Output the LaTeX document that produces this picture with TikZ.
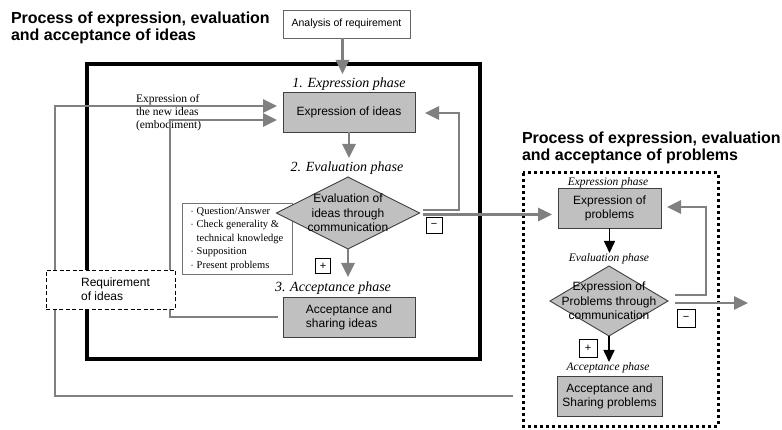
\documentclass[tikz,border=0pt]{standalone}
\usepackage{fontspec}
\setmainfont{Liberation Serif}
\setsansfont{Liberation Sans}
\usetikzlibrary{shapes.geometric,arrows.meta,calc}
\definecolor{linegray}{RGB}{128,128,128}
\definecolor{boxgray}{RGB}{192,192,192}
\begin{document}
\begin{tikzpicture}[x=1pt,y=-1pt,
 every node/.style={inner sep=0pt, outer sep=0pt},
 garrow/.style={draw=linegray, line width=2.6pt, -{Triangle[length=14pt,width=13pt]}},
 barrow/.style={draw=black, line width=1.6pt, -{Triangle[length=12pt,width=11pt]}},
 procbox/.style={rectangle, draw=black!75, line width=0.9pt, fill=boxgray, font=\sffamily\fontsize{12}{14}\selectfont, align=center},
 decision/.style={diamond, draw=black!75, line width=0.9pt, fill=boxgray},
 phase/.style={font=\itshape\fontsize{14}{16}\selectfont},
 smallphase/.style={font=\itshape\fontsize{11.5}{13}\selectfont},
 signbox/.style={rectangle, draw=black, line width=0.8pt, fill=white, font=\sffamily\fontsize{11}{12}\selectfont},
 titletext/.style={font=\sffamily\bfseries\fontsize{16}{17}\selectfont, align=left, anchor=north west},
 difftext/.style={font=\sffamily\fontsize{12}{14.5}\selectfont, align=center},
]
\useasboundingbox (0,0) rectangle (782,430);
\fill[white] (0,0) rectangle (782,430);

% frames
\draw[line width=4.5pt] (87,64) rectangle (480,359);
\draw[line width=3pt, dash pattern=on 3pt off 3pt] (523,173) rectangle (718,426);

% titles
\node[titletext] (title1) at (11,11.5) {Process of expression, evaluation\\and acceptance of ideas};
\node[titletext] (title2) at (522,131.5) {Process of expression, evaluation\\and acceptance of problems};

% left process
\node[draw=black!60, line width=0.6pt, fill=white, minimum width=127, minimum height=28, font=\sffamily\fontsize{10.5}{12}\selectfont] (analysis) at (346.5,24) {Analysis of requirement};
\node[phase] (ph1) at (349,84) {1. Expression phase};
\node[procbox, minimum width=132, minimum height=40] (exprIdeas) at (349,112) {Expression of ideas};
\node[phase] (ph2) at (347,168) {2. Evaluation phase};
\node[draw=black!55, line width=0.7pt, fill=white, anchor=north west, minimum width=110, minimum height=71, font=\fontsize{10.5}{13.5}\selectfont] (criteria) at (182,203)
  {\begin{tabular}{@{}l@{\hspace{3pt}}l@{}}
   $\cdot$ & Question/Answer\\
   $\cdot$ & Check generality \&\\
           & technical knowledge\\
   $\cdot$ & Supposition\\
   $\cdot$ & Present problems
   \end{tabular}};
\node[decision, minimum width=143, minimum height=72,
  label={[difftext]center:{Evaluation of\\ideas through\\communication}}] (evalIdeas) at (348,213) {};
\node[signbox, minimum size=15] (plus1) at (323,266) {+};
\node[phase] (ph3) at (333,288) {3. Acceptance phase};
\node[procbox, minimum width=132, minimum height=40, align=left] (accIdeas) at (349,317) {Acceptance and\\sharing ideas};
\node[signbox, minimum size=16] (minus1) at (434,225) {−};

\node[font=\fontsize{11.5}{13}\selectfont, align=left, anchor=north west] (newIdeas) at (136,94) {Expression of\\the new ideas\\(embodiment)};

% right process
\node[smallphase] (rph1) at (608,183) {Expression phase};
\node[procbox, minimum width=103, minimum height=40] (exprProb) at (609.5,208) {Expression of\\problems};
\node[smallphase] (rph2) at (609,259) {Evaluation phase};
\node[decision, minimum width=118, minimum height=70,
  label={[difftext]center:{Expression of\\Problems through\\communication}}] (evalProb) at (609,301) {};
\node[signbox, minimum size=18] (plus2) at (588,348) {+};
\node[smallphase] (rph3) at (608,368) {Acceptance phase};
\node[procbox, minimum width=105, minimum height=40] (accProb) at (609.5,396) {Acceptance and\\Sharing problems};
\node[signbox, minimum size=18] (minus2) at (686,318) {−};

% connectors left
\draw[garrow] ([xshift=-4pt]analysis.south) -- ++(0,36);
\draw[garrow] (exprIdeas.south) -- ++(0,26);
\draw[garrow] (evalIdeas.south) -- ++(0,28);
\draw[garrow] ($(evalIdeas.east)+(3,-3)$) -- (459,210) -- (459,113) -- ($(exprIdeas.east)+(10,1)$);
\draw[garrow] ($(evalIdeas.east)+(3,1.5)$) -- ($(exprProb.west |- evalIdeas.east)+(-6,1.5)$);
\draw[garrow] ($(accProb.west)+(-44,0)$) -- (55,396) -- (55,106) -- ($(exprIdeas.west)+(-6,-6)$);
\draw[garrow] ($(accIdeas.west)+(-5,0)$) -- (170,317) -- (170,120) -- ($(exprIdeas.west)+(-6,8)$);

% connectors right
\draw[barrow] (exprProb.south) -- ++(0,25);
\draw[barrow] (evalProb.south) -- ++(0,26);
\draw[garrow] ($(evalProb.east)+(7,-6)$) -- (706,295) -- (706,207) -- ($(exprProb.east)+(6,-1)$);
\draw[garrow] ($(evalProb.east)+(7,2)$) -- ++(73,0);

% requirement box on top of lines
\node[draw, dash pattern=on 4pt off 2.5pt, line width=0.9pt, fill=white, minimum width=129, minimum height=39,
  label={[font=\sffamily\fontsize{12}{14}\selectfont, align=left, xshift=5pt]center:{Requirement\\of ideas}}] (reqIdeas) at (110.5,289.5) {};
\end{tikzpicture}
\end{document}
